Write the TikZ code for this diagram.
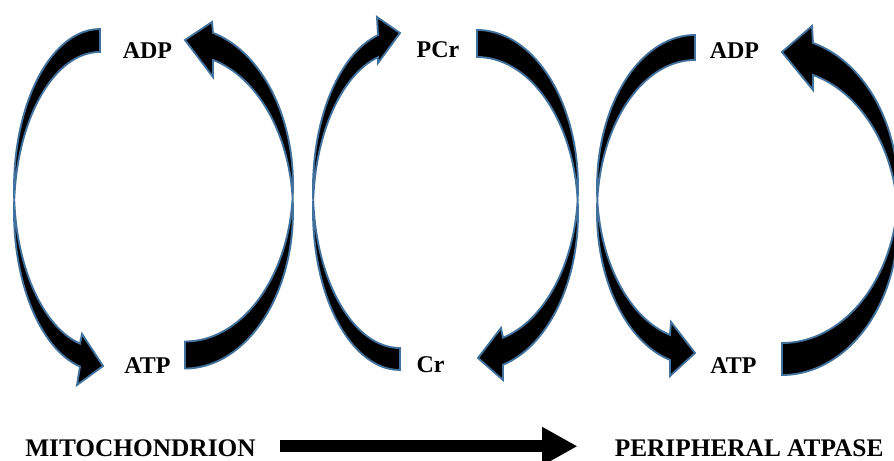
\documentclass[tikz,border=0pt]{standalone}
\usepackage{fontspec}
\setmainfont{Liberation Serif}
\usetikzlibrary{positioning,arrows.meta}
\definecolor{rim}{RGB}{65,113,156}
\begin{document}
\begin{tikzpicture}[x=0.75pt,y=0.75pt,
    crescent/.style={fill=black,draw=rim,line width=1.4pt},
    lbl/.style={font=\fontsize{18}{20}\selectfont\bfseries,inner sep=0pt},
    big/.style={font=\fontsize{19}{21}\selectfont\bfseries,inner sep=0pt},
    node distance={236.6pt}]
\useasboundingbox (0,0) rectangle (894,-461);
\node [lbl] (adp1) at (147.5,-50.5) {ADP};
\node [lbl] (atp1) [below of=adp1] {ATP};
\node [lbl] (pcr) at (438,-49.5) {PCr};
\node [lbl] (cr) [below of=pcr,xshift=-5.6pt] {Cr};
\node [lbl] (adp2) at (734.5,-50.5) {ADP};
\node [lbl] (atp2) [below of=adp2,xshift=-0.8pt] {ATP};
\node [big,anchor=base west] (mito) at (25,-456.5) {MITOCHONDRION};
\node [big] (atpase) [right=269pt of mito] {PERIPHERAL ATPASE};
% ADP -> ATP (mitochondrion side)
\draw[crescent] (100,-29) arc[start angle=90,end angle=184.13,x radius=86,y radius=159.5]
    arc[start angle=175.87,end angle=256.55,x radius=86,y radius=159.5]
    -- (77,-385) -- (103,-366) -- (82,-334)
    -- ([shift={(100,-188.5)}]256.55:86 and 159.5) arc[start angle=256.55,end angle=184.13,x radius=86,y radius=159.5]
    arc[start angle=175.87,end angle=90,x radius=86,y radius=159.5] -- cycle;
\draw[crescent] (185,-368.5) arc[start angle=-90,end angle=4.93,x radius=108,y radius=157]
    arc[start angle=-4.93,end angle=74.97,x radius=108,y radius=157]
    -- (212,-22) -- (185,-40) -- (213,-77)
    -- ([shift={(185,-211.5)}]74.97:108 and 157) arc[start angle=74.97,end angle=4.93,x radius=108,y radius=157]
    arc[start angle=-4.93,end angle=-90,x radius=108,y radius=157] -- cycle;
% Cr <-> PCr
\draw[crescent] (400,-370) arc[start angle=270,end angle=176.03,x radius=87,y radius=159]
    arc[start angle=183.97,end angle=104.65,x radius=87,y radius=159]
    -- (377,-17) -- (400,-33) -- (378,-63)
    -- ([shift={(400,-211)}]104.65:87 and 159) arc[start angle=104.65,end angle=176.03,x radius=87,y radius=159]
    arc[start angle=183.97,end angle=270,x radius=87,y radius=159] -- cycle;
\draw[crescent] (477,-30) arc[start angle=90,end angle=-4.95,x radius=101,y radius=156.5]
    arc[start angle=4.95,end angle=-75.08,x radius=101,y radius=156.5]
    -- (503,-380) -- (478,-358) -- (501,-328)
    -- ([shift={(477,-186.5)}]-75.08:101 and 156.5) arc[start angle=-75.08,end angle=-4.95,x radius=101,y radius=156.5]
    arc[start angle=4.95,end angle=90,x radius=101,y radius=156.5] -- cycle;
% ADP <-> ATP (ATPase side)
\draw[crescent] (695,-35) arc[start angle=90,end angle=184.70,x radius=98,y radius=152.5]
    arc[start angle=175.30,end angle=255.22,x radius=98,y radius=152.5]
    -- (670,-376) -- (695,-353) -- (671,-322)
    -- ([shift={(695,-187.5)}]255.22:98 and 152.5) arc[start angle=255.22,end angle=184.70,x radius=98,y radius=152.5]
    arc[start angle=175.30,end angle=90,x radius=98,y radius=152.5] -- cycle;
\draw[crescent] (782,-375) arc[start angle=-90,end angle=6.01,x radius=116,y radius=152.8]
    arc[start angle=-6.01,end angle=74.5,x radius=116,y radius=152.8]
    -- (812,-26) -- (782,-52) -- (813,-90)
    -- ([shift={(782,-222.2)}]74.5:116 and 152.8) arc[start angle=74.5,end angle=6.01,x radius=116,y radius=152.8]
    arc[start angle=-6.01,end angle=-90,x radius=116,y radius=152.8] -- cycle;
\draw[line width=9pt,-{Triangle[length=26.5pt,width=27pt]},shorten <=18pt,shorten >=27.75pt]
    ([yshift=1.5pt]mito.east) -- ([yshift=1.5pt]atpase.west);
\end{tikzpicture}
\end{document}
